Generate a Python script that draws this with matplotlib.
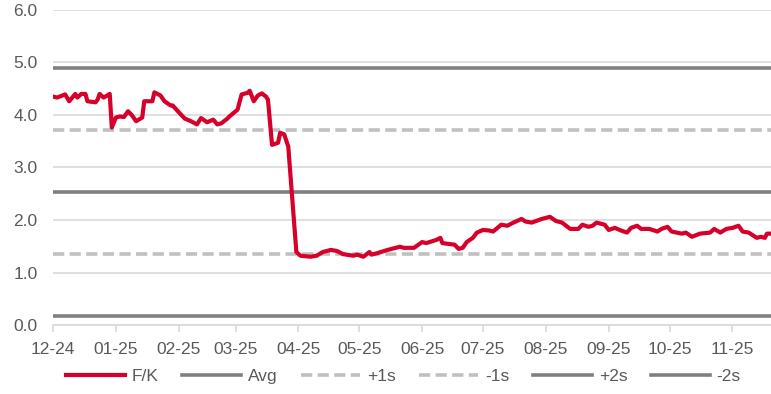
import pandas as pd
import matplotlib.pyplot as plt
import matplotlib.dates as mdates

plt.rcParams['font.family'] = ['Liberation Sans', 'DejaVu Sans']

# F/K series
dates = [
    '2024-12-01', '2024-12-03', '2024-12-07', '2024-12-09', '2024-12-12', '2024-12-13',
    '2024-12-15', '2024-12-17', '2024-12-18', '2024-12-22', '2024-12-23', '2024-12-24',
    '2024-12-26', '2024-12-29', '2024-12-30', '2025-01-01', '2025-01-03', '2025-01-05',
    '2025-01-07', '2025-01-09', '2025-01-11', '2025-01-14', '2025-01-15', '2025-01-19',
    '2025-01-20', '2025-01-23', '2025-01-25', '2025-01-28', '2025-01-29', '2025-02-02',
    '2025-02-04', '2025-02-07', '2025-02-10', '2025-02-12', '2025-02-15', '2025-02-18',
    '2025-02-20', '2025-02-22', '2025-02-25', '2025-02-26', '2025-03-02', '2025-03-04',
    '2025-03-07', '2025-03-08', '2025-03-10', '2025-03-12', '2025-03-14', '2025-03-16',
    '2025-03-17', '2025-03-19', '2025-03-22', '2025-03-23', '2025-03-25', '2025-03-27',
    '2025-03-31', '2025-04-02', '2025-04-07', '2025-04-10', '2025-04-13', '2025-04-17',
    '2025-04-20', '2025-04-23', '2025-04-28', '2025-04-30', '2025-05-03', '2025-05-06',
    '2025-05-07', '2025-05-10', '2025-05-15', '2025-05-19', '2025-05-21', '2025-05-23',
    '2025-05-28', '2025-06-01', '2025-06-03', '2025-06-08', '2025-06-10', '2025-06-11',
    '2025-06-17', '2025-06-19', '2025-06-21', '2025-06-23', '2025-06-26', '2025-06-28',
    '2025-07-01', '2025-07-04', '2025-07-06', '2025-07-10', '2025-07-13', '2025-07-16',
    '2025-07-20', '2025-07-22', '2025-07-25', '2025-07-30', '2025-08-03', '2025-08-06',
    '2025-08-09', '2025-08-13', '2025-08-17', '2025-08-19', '2025-08-22', '2025-08-24',
    '2025-08-26', '2025-08-30', '2025-09-01', '2025-09-04', '2025-09-07', '2025-09-10',
    '2025-09-12', '2025-09-15', '2025-09-17', '2025-09-21', '2025-09-25', '2025-09-27',
    '2025-09-30', '2025-10-02', '2025-10-07', '2025-10-09', '2025-10-12', '2025-10-16',
    '2025-10-21', '2025-10-23', '2025-10-26', '2025-10-29', '2025-11-01', '2025-11-04',
    '2025-11-06', '2025-11-09', '2025-11-13', '2025-11-15', '2025-11-17', '2025-11-18',
    '2025-11-20',
]
fk = [
    4.35, 4.33, 4.39, 4.26, 4.40, 4.33,
    4.40, 4.40, 4.26, 4.24, 4.29, 4.40,
    4.33, 4.40, 3.76, 3.95, 3.97, 3.96,
    4.07, 3.99, 3.88, 3.95, 4.26, 4.26,
    4.43, 4.37, 4.26, 4.18, 4.18, 4.01,
    3.93, 3.88, 3.82, 3.94, 3.86, 3.91,
    3.82, 3.84, 3.93, 3.97, 4.10, 4.39,
    4.42, 4.46, 4.26, 4.37, 4.41, 4.35,
    4.29, 3.43, 3.47, 3.66, 3.63, 3.40,
    1.39, 1.32, 1.30, 1.32, 1.39, 1.43,
    1.41, 1.35, 1.32, 1.34, 1.30, 1.39,
    1.34, 1.37, 1.43, 1.47, 1.49, 1.47,
    1.47, 1.58, 1.56, 1.62, 1.66, 1.56,
    1.53, 1.45, 1.47, 1.58, 1.66, 1.76,
    1.81, 1.80, 1.78, 1.91, 1.89, 1.95,
    2.02, 1.97, 1.95, 2.02, 2.06, 1.98,
    1.95, 1.83, 1.83, 1.91, 1.87, 1.89,
    1.95, 1.91, 1.81, 1.85, 1.80, 1.76,
    1.85, 1.89, 1.83, 1.83, 1.78, 1.83,
    1.87, 1.78, 1.74, 1.76, 1.68, 1.74,
    1.76, 1.83, 1.76, 1.83, 1.85, 1.89,
    1.78, 1.76, 1.66, 1.68, 1.66, 1.74,
    1.74,
]

# band levels
avg = 2.54
plus_1s = 3.72
minus_1s = 1.36
plus_2s = 4.90
minus_2s = 0.18

yticks = [0.0, 1.0, 2.0, 3.0, 4.0, 5.0, 6.0]

red = '#D6002A'
dark_grey = '#808080'
light_grey = '#C0C0C0'
text_grey = '#595959'
grid_grey = '#D9D9D9'

x = pd.to_datetime(dates)

fig = plt.figure(figsize=(7.71, 3.94), dpi=100)
ax = fig.add_axes([0.0687, 0.175, 0.9313, 0.80])

ax.set_yticks(yticks)
ax.yaxis.grid(True, color=grid_grey, linewidth=1.2)
ax.set_axisbelow(True)

ax.plot(x, fk, color=red, linewidth=3, label='F/K', zorder=5, solid_joinstyle='round')
ax.axhline(avg, color=dark_grey, linewidth=2.6, label='Avg')
ax.axhline(plus_1s, color=light_grey, linewidth=2.6, dashes=(3.1, 1.5), label='+1s')
ax.axhline(minus_1s, color=light_grey, linewidth=2.6, dashes=(3.1, 1.5), label='-1s')
ax.axhline(plus_2s, color=dark_grey, linewidth=2.6, label='+2s')
ax.axhline(minus_2s, color=dark_grey, linewidth=2.6, label='-2s')

ax.set_ylim(0, 6)
ax.set_xlim(pd.Timestamp('2024-12-01'), pd.Timestamp('2025-11-20'))
ax.yaxis.set_major_formatter(plt.FormatStrFormatter('%.1f'))
ax.xaxis.set_major_locator(mdates.MonthLocator())
ax.xaxis.set_major_formatter(mdates.DateFormatter('%m-%y'))

for s in ['top', 'right', 'left']:
    ax.spines[s].set_visible(False)
ax.spines['bottom'].set_color(grid_grey)
ax.spines['bottom'].set_linewidth(1.2)
ax.tick_params(axis='x', colors=grid_grey, length=5, width=1.2, pad=7,
               labelcolor=text_grey, labelsize=12.5)
ax.tick_params(axis='y', length=0, pad=11, labelcolor=text_grey, labelsize=12.5)

leg = fig.legend(loc='lower center', bbox_to_anchor=(0.523, -0.015), ncol=6,
                 frameon=False, fontsize=12.5, handlelength=3.4,
                 columnspacing=1.35, handletextpad=0.4)
for t in leg.get_texts():
    t.set_color(text_grey)

fig.savefig('out.png', dpi=100)
